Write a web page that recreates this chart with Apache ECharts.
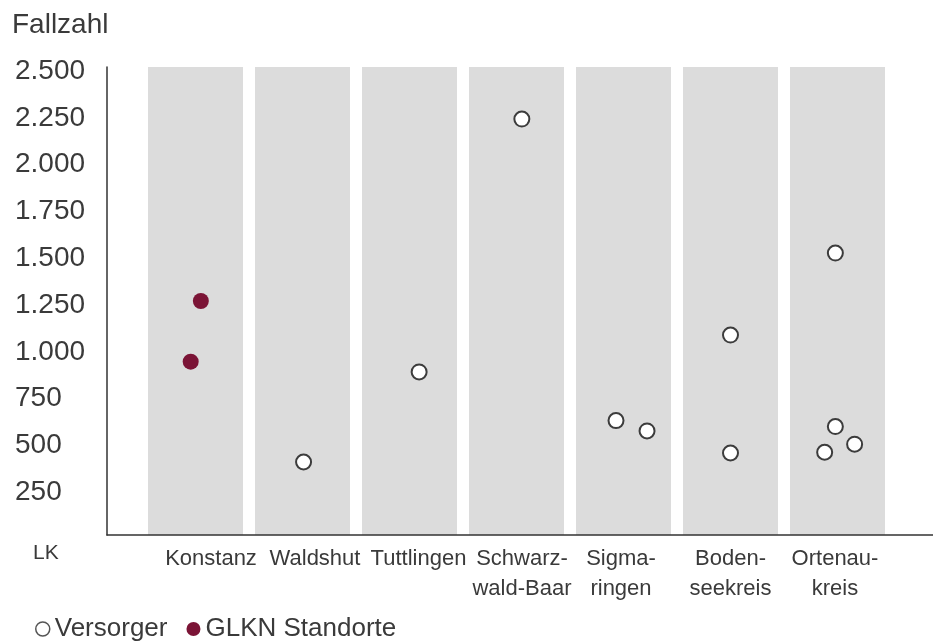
<!DOCTYPE html>
<html>
<head>
<meta charset="utf-8">
<script src="https://cdn.jsdelivr.net/npm/echarts@6/dist/echarts.min.js"></script>
<style>
  html, body { margin: 0; padding: 0; background: #fff; }
  #chart { width: 933px; height: 642px; }
</style>
</head>
<body>
<div id="chart"></div>
<script>
// Landkreise (LK) on the x axis
const categories = ['Konstanz', 'Waldshut', 'Tuttlingen', 'Schwarz-\nwald-Baar', 'Sigma-\nringen', 'Boden-\nseekreis', 'Ortenau-\nkreis'];
const yTicks = [0, 250, 500, 750, 1000, 1250, 1500, 1750, 2000, 2250, 2500];

// Versorger: category index, Fallzahl
const versorgerCat = [1, 2, 3, 4, 4, 5, 5, 6, 6, 6, 6];
const versorgerFall = [390, 871, 2222, 611, 556, 1068, 438, 1506, 579, 442, 485];
// small horizontal spread so overlapping points stay visible
const versorgerSpread = [0.01, 0.09, 0.05, -0.07, 0.22, 0, 0, -0.02, -0.02, -0.12, 0.16];

// GLKN Standorte
const glknCat = [0, 0];
const glknFall = [1250, 926];
const glknSpread = [0.05, -0.045];

const yMax = yTicks[yTicks.length - 1];
const bandValues = categories.map(() => yMax);

function fmt(v) {
  if (v === 0) return '';
  if (v >= 1000) return Math.floor(v / 1000) + '.' + String(v % 1000).padStart(3, '0');
  return String(v);
}

const textColor = '#3a3a3a';
const maroon = '#7b1436';
const font = 'Liberation Sans, Arial, sans-serif';

// the category labels sit in one running text row, so the first ones drift right of their band
const labelShift = [15.5, 12.5, 9, 5.5, -2.5, 0, -2.5];
const labelRich = {};
labelShift.forEach((s, i) => {
  labelRich['c' + i] = {
    fontFamily: font, fontSize: 22, lineHeight: 30, color: textColor,
    padding: s >= 0 ? [0, 0, 0, 2 * s] : [0, -2 * s, 0, 0]
  };
});

const chart = echarts.init(document.getElementById('chart'));
chart.setOption({
  animation: false,
  backgroundColor: '#fff',
  textStyle: { fontFamily: font, color: textColor },
  title: [
    { text: 'Fallzahl', left: 7, top: 6,
      textStyle: { fontFamily: font, fontSize: 28, fontWeight: 'normal', color: textColor } },
    { text: 'LK', left: 28, top: 538,
      textStyle: { fontFamily: font, fontSize: 21, fontWeight: 'normal', color: textColor } }
  ],
  legend: {
    left: 30, top: 611, itemGap: 19, itemWidth: 14, itemHeight: 14,
    textStyle: { fontFamily: font, fontSize: 26, color: textColor },
    data: [
      { name: 'Versorger', icon: 'circle', itemStyle: { color: '#fff', borderColor: '#555', borderWidth: 1.5, opacity: 1 } },
      { name: 'GLKN Standorte', icon: 'circle', itemStyle: { color: maroon, borderWidth: 0, opacity: 1 } }
    ]
  },
  grid: [
    { left: 142, right: 42, top: 67, bottom: 107 },
    { left: 107, right: 0, top: 67, bottom: 107 }
  ],
  xAxis: [
    {
      type: 'category', gridIndex: 0, data: categories,
      axisLine: { show: false }, axisTick: { show: false },
      axisLabel: {
        fontFamily: font, fontSize: 22, lineHeight: 30, color: textColor, margin: 9, interval: 0,
        rich: labelRich,
        formatter: (value, index) => value.split('\n').map(l => '{c' + index + '|' + l + '}').join('\n')
      }
    },
    { type: 'value', gridIndex: 0, min: -0.5, max: categories.length - 0.5, show: false },
    {
      type: 'value', gridIndex: 1, min: 0, max: 1, position: 'bottom', z: 10,
      axisLine: { show: true, onZero: false, lineStyle: { color: '#333', width: 1.5 } },
      axisTick: { show: false }, axisLabel: { show: false }, splitLine: { show: false }
    }
  ],
  yAxis: [
    { type: 'value', gridIndex: 0, min: 0, max: yMax, interval: 250, show: false },
    {
      type: 'value', gridIndex: 1, min: 0, max: yMax, interval: 250, z: 10,
      axisLine: { show: true, lineStyle: { color: '#333', width: 1.5 } },
      axisTick: { show: false }, splitLine: { show: false },
      axisLabel: {
        align: 'left', margin: 92, fontFamily: font, fontSize: 28, color: textColor,
        formatter: v => { const t = fmt(v); return t ? '{v|' + t + '}' : ''; },
        rich: { v: { fontFamily: font, fontSize: 28, color: textColor, padding: [8, 0, 0, 0] } }
      }
    }
  ],
  series: [
    {
      type: 'bar', xAxisIndex: 0, yAxisIndex: 0, data: bandValues, barWidth: 95,
      itemStyle: { color: '#dcdcdc' }, silent: true, z: 1
    },
    {
      name: 'Versorger', type: 'scatter', xAxisIndex: 1, yAxisIndex: 0,
      data: versorgerFall.map((v, i) => [versorgerCat[i] + versorgerSpread[i], v]),
      symbol: 'circle', symbolSize: 15,
      itemStyle: { color: '#fff', borderColor: '#3c3c3c', borderWidth: 2, opacity: 1 }, z: 3
    },
    {
      name: 'GLKN Standorte', type: 'scatter', xAxisIndex: 1, yAxisIndex: 0,
      data: glknFall.map((v, i) => [glknCat[i] + glknSpread[i], v]),
      symbol: 'circle', symbolSize: 16,
      itemStyle: { color: maroon, opacity: 1 }, z: 3
    }
  ]
});
</script>
</body>
</html>
